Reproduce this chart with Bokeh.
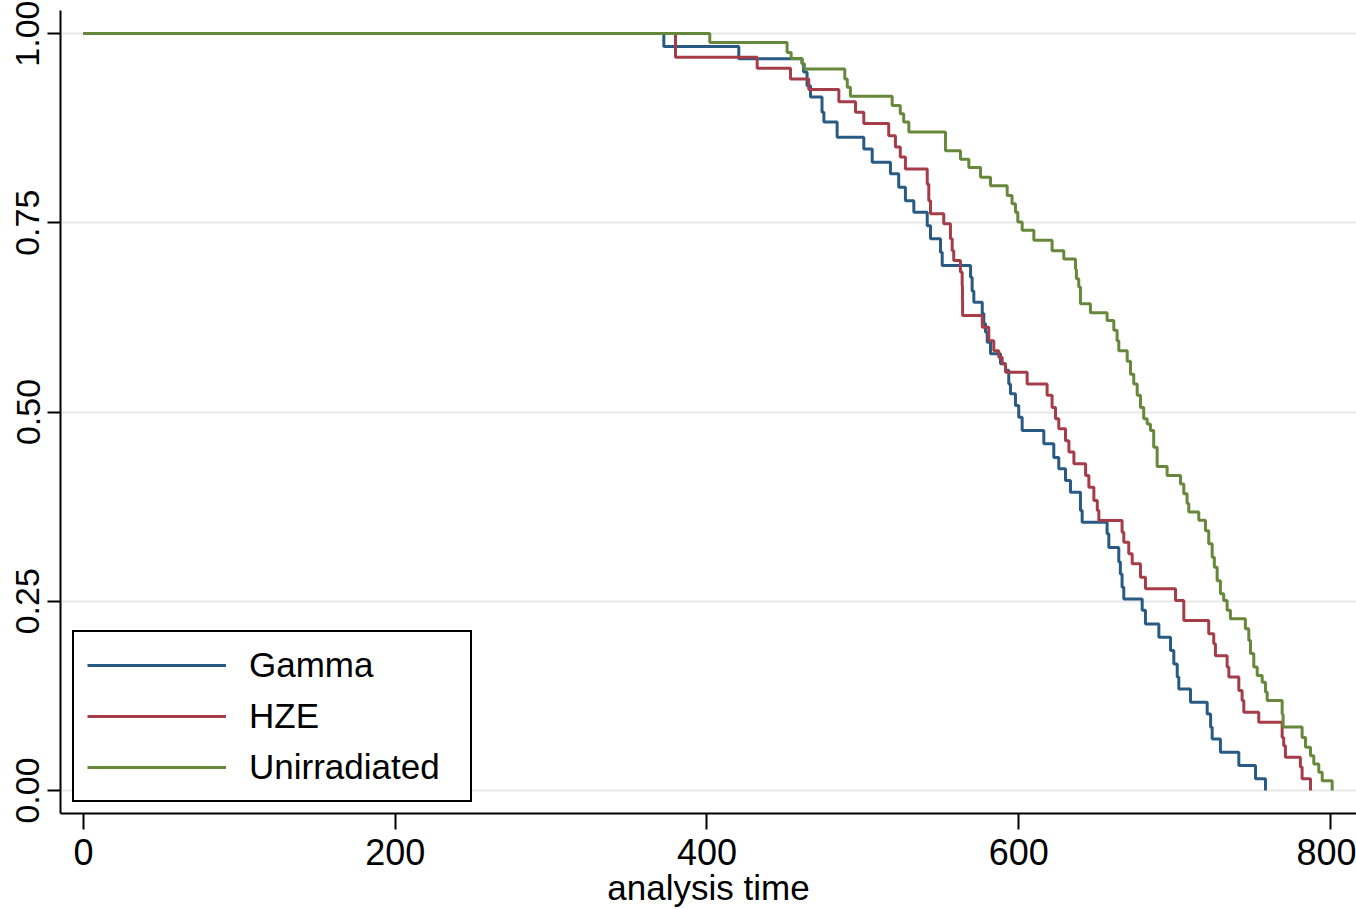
from bokeh.plotting import figure
from bokeh.models import Range1d, FixedTicker, PrintfTickFormatter
from bokeh.embed import file_html
from bokeh.resources import INLINE

# ---- data ----
groups = ["Gamma", "HZE", "Unirradiated"]

gamma_time = [372.3, 420.4, 461.0, 462.0, 464.2, 466.4, 473.8, 475.0, 483.5, 500.6,
              506.0, 517.7, 523.0, 527.3, 532.7, 541.3, 543.4, 549.8, 550.9, 569.1,
              570.1, 571.2, 576.6, 577.6, 578.7, 579.8, 581.9, 588.3, 591.5, 593.6,
              594.7, 597.9, 600.0, 602.2, 616.1, 622.5, 625.7, 630.0, 633.2, 639.6,
              640.7, 656.7, 657.8, 664.2, 665.2, 666.3, 667.4, 679.2, 681.3, 689.9,
              697.4, 699.5, 701.7, 702.7, 710.2, 720.9, 723.1, 724.1, 729.4, 741.2,
              751.9, 758.3]
gamma_surv = [0.983, 0.9665, 0.960, 0.949, 0.931, 0.916, 0.896, 0.883, 0.863, 0.8475,
              0.830, 0.8146, 0.797, 0.779, 0.764, 0.746, 0.729, 0.711, 0.6935, 0.678,
              0.660, 0.645, 0.630, 0.6165, 0.6055, 0.592, 0.577, 0.5637, 0.555, 0.537,
              0.524, 0.5086, 0.493, 0.4756, 0.458, 0.440, 0.425, 0.4095, 0.394, 0.370,
              0.3544, 0.339, 0.321, 0.302, 0.286, 0.2686, 0.253, 0.238, 0.220, 0.2025,
              0.185, 0.167, 0.150, 0.134, 0.1166, 0.101, 0.0836, 0.068, 0.0506, 0.033,
              0.0155, 0.0]

hze_time = [379.8, 432.2, 453.6, 465.3, 484.6, 495.3, 500.6, 516.6, 520.9, 524.0,
            527.3, 541.3, 542.3, 543.4, 551.9, 556.2, 557.3, 558.3, 562.6, 563.7,
            563.9, 564.0, 576.6, 580.8, 584.0, 587.2, 589.4, 591.5, 605.4, 618.2,
            621.4, 623.6, 625.7, 630.0, 632.2, 635.4, 642.9, 645.0, 648.2, 650.4,
            651.4, 666.3, 667.4, 670.6, 672.8, 678.1, 681.3, 700.6, 705.9, 721.9,
            725.1, 726.2, 733.7, 734.8, 741.2, 743.3, 744.4, 754.0, 769.0, 770.0,
            771.1, 780.7, 781.8, 787.2]
hze_surv = [0.9687, 0.954, 0.940, 0.926, 0.910, 0.896, 0.881, 0.865, 0.850, 0.837,
            0.821, 0.801, 0.779, 0.762, 0.7486, 0.729, 0.713, 0.700, 0.685, 0.667,
            0.648, 0.6275, 0.612, 0.594, 0.581, 0.5724, 0.5637, 0.5526, 0.537, 0.522,
            0.506, 0.491, 0.478, 0.462, 0.447, 0.4316, 0.416, 0.4007, 0.383, 0.370,
            0.3567, 0.341, 0.328, 0.3127, 0.2995, 0.2818, 0.2664, 0.251, 0.2246, 0.207,
            0.1938, 0.178, 0.163, 0.150, 0.132, 0.119, 0.1034, 0.090, 0.070, 0.059,
            0.044, 0.031, 0.0155, 0.0]

unirr_time = [401.8, 451.4, 454.0, 461.0, 462.5, 488.4, 490.0, 492.0, 518.8, 524.0,
              526.2, 529.5, 553.0, 562.6, 568.0, 575.5, 581.9, 592.6, 595.7, 597.9,
              599.4, 602.2, 609.7, 621.4, 628.9, 636.4, 637.0, 638.5, 639.6, 646.0,
              656.7, 661.0, 663.1, 664.2, 669.6, 671.7, 673.8, 676.0, 678.1, 680.2,
              682.4, 684.5, 686.6, 688.8, 695.2, 703.8, 705.9, 708.0, 709.1, 715.5,
              719.8, 721.9, 724.1, 725.5, 727.3, 729.4, 731.5, 733.7, 735.8, 745.4,
              747.6, 748.7, 750.8, 753.0, 756.2, 758.3, 759.4, 769.0, 769.6, 781.8,
              784.0, 787.2, 789.3, 792.5, 794.7, 801.1]
unirr_surv = [0.988, 0.975, 0.967, 0.960, 0.953, 0.940, 0.929, 0.917, 0.905, 0.894,
              0.883, 0.870, 0.845, 0.834, 0.823, 0.810, 0.799, 0.786, 0.775, 0.764,
              0.751, 0.740, 0.727, 0.713, 0.702, 0.689, 0.676, 0.665, 0.643, 0.631,
              0.621, 0.608, 0.594, 0.581, 0.567, 0.550, 0.537, 0.522, 0.506, 0.491,
              0.484, 0.4755, 0.4535, 0.428, 0.416, 0.405, 0.392, 0.379, 0.368, 0.357,
              0.343, 0.326, 0.308, 0.295, 0.277, 0.260, 0.251, 0.238, 0.227, 0.2135,
              0.198, 0.181, 0.163, 0.152, 0.143, 0.130, 0.119, 0.101, 0.084, 0.070,
              0.057, 0.046, 0.035, 0.024, 0.013, 0.0]

x_ticks = [0, 200, 400, 600, 800]
y_ticks = [0.0, 0.25, 0.5, 0.75, 1.0]
x_title = "analysis time"

colors = ["#285a84", "#a53d48", "#66883a"]
FONT = "Liberation Sans"

p = figure(width=1356, height=909, output_backend="svg", toolbar_location=None,
           x_range=Range1d(-14.76, 816.7), y_range=Range1d(-0.0304, 1.0304),
           min_border_left=60, min_border_right=0, min_border_top=10, min_border_bottom=96)
p.outline_line_color = None
p.background_fill_color = "white"
p.border_fill_color = "white"

series = [(gamma_time, gamma_surv), (hze_time, hze_surv), (unirr_time, unirr_surv)]
for name, (t, s), c in zip(groups, series, colors):
    xs = [0.0] + list(t)
    ys = [1.0] + list(s)
    p.step(xs, ys, mode="after", line_color=c, line_width=3, legend_label=name)

# axes
p.xaxis.ticker = FixedTicker(ticks=x_ticks)
p.yaxis.ticker = FixedTicker(ticks=y_ticks)
p.yaxis.formatter = PrintfTickFormatter(format="%.2f")
p.yaxis.major_label_orientation = "vertical"
for ax in (p.xaxis[0], p.yaxis[0]):
    ax.axis_line_color = "black"
    ax.axis_line_width = 2
    ax.major_tick_line_color = "black"
    ax.major_tick_line_width = 2
    ax.major_tick_in = 0
    ax.minor_tick_line_color = None
    ax.major_label_text_font = FONT
    ax.major_label_text_color = "black"
p.xaxis.major_label_text_font_size = "36px"
p.xaxis.major_tick_out = 16
p.xaxis.major_label_standoff = 9
p.xaxis.axis_label = x_title
p.xaxis.axis_label_text_font = FONT
p.xaxis.axis_label_text_font_size = "35px"
p.xaxis.axis_label_text_font_style = "normal"
p.xaxis.axis_label_text_color = "black"
p.xaxis.axis_label_standoff = 0
p.yaxis.major_tick_out = 13
p.yaxis.major_label_standoff = 8
p.yaxis.major_label_text_font_size = "34px"

p.xgrid.grid_line_color = None
p.ygrid.grid_line_color = "#e8e8e8"
p.ygrid.grid_line_width = 2

lg = p.legend[0]
lg.location = (12, 11)
lg.border_line_color = "black"
lg.border_line_alpha = 1.0
lg.border_line_width = 2
lg.background_fill_color = "white"
lg.background_fill_alpha = 1.0
lg.padding = 13
lg.spacing = 11
lg.glyph_width = 139
lg.glyph_height = 40
lg.label_height = 40
lg.label_width = 208
lg.label_standoff = 23
lg.label_text_font = FONT
lg.label_text_font_size = "35px"
lg.label_text_color = "black"
lg.margin = 0

open("out.html", "w").write(file_html(p, INLINE))
